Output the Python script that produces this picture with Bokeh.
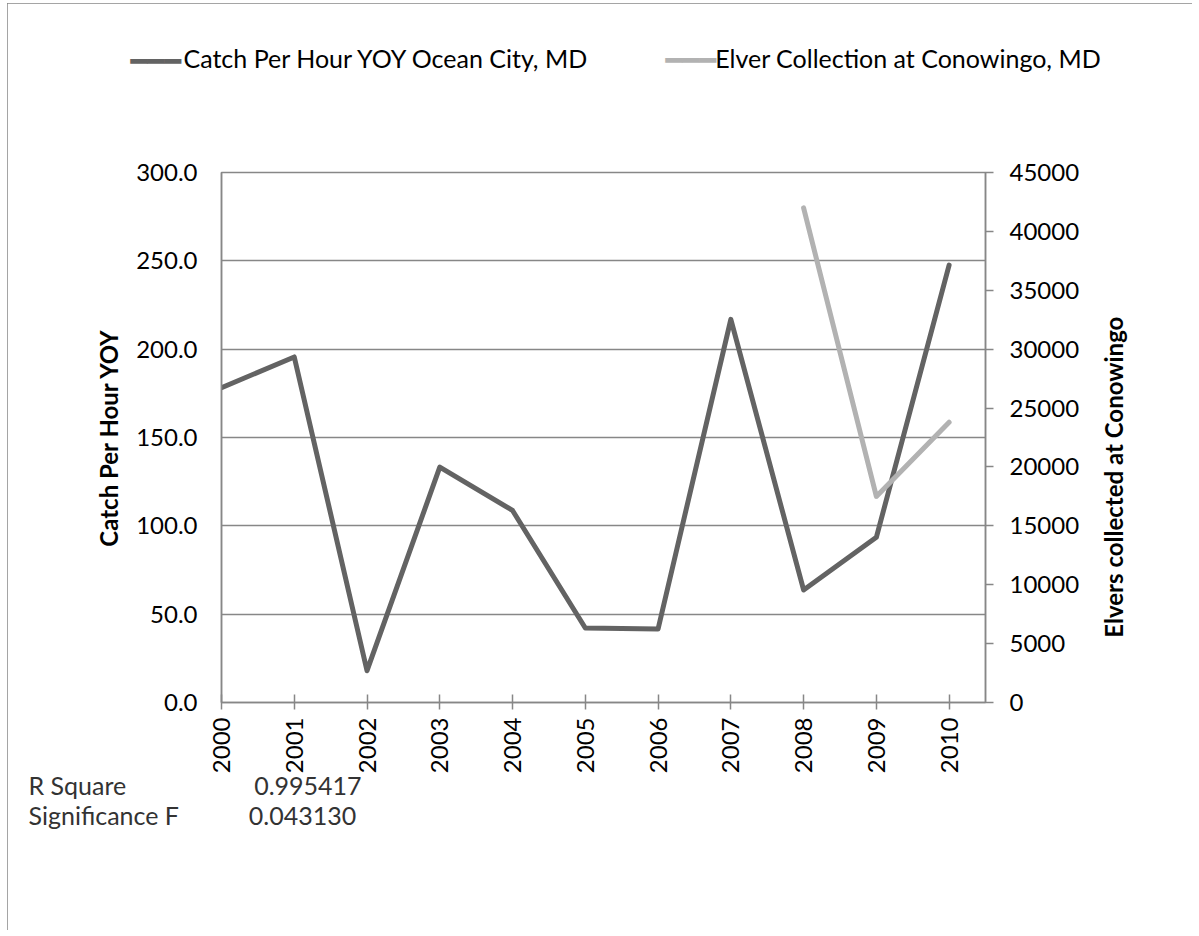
import math
from bokeh.plotting import figure
from bokeh.models import (Range1d, LinearAxis, SingleIntervalTicker, FixedTicker,
                          NumeralTickFormatter, Title)
from bokeh.embed import file_html
from bokeh.resources import INLINE

# ---- data ----
years = [2000, 2001, 2002, 2003, 2004, 2005, 2006, 2007, 2008, 2009, 2010]
catch_per_hour = [178.2, 195.6, 18.0, 133.2, 108.7, 42.2, 41.6, 216.9, 63.7, 93.5, 247.6]
elver_years = [2008, 2009, 2010]
elver_counts = [42000, 17500, 23800]
series_names = ["Catch Per Hour YOY Ocean City, MD", "Elver Collection at Conowingo, MD"]
left_title = "Catch Per Hour YOY"
right_title = "Elvers collected at Conowingo"
right_title_start = 5500   # where the right-hand title begins, in elver units
stats_names = ["R Square", "Significance F"]
stats_values = ["0.995417", "0.043130"]

FONT = "Lato"
DARK = "#636363"
LIGHT = "#b2b2b2"
AXIS = "#878787"
NB = "\u00a0"
SWATCH = "\u2501" * 3
TICK_FS = "24px"

W, H = 1185, 927
p = figure(width=W, height=H, output_backend="svg", toolbar_location=None,
           title_location=None,
           x_range=Range1d(2000, 2010.5), y_range=Range1d(0, 300),
           min_border_left=214, min_border_right=207, min_border_top=169,
           min_border_bottom=228)
p.outline_line_color = AXIS
p.outline_line_width = 1.5
p.background_fill_color = "white"
p.border_fill_color = "white"
p.styles = {"margin-left": "7px", "margin-top": "3px",
            "outline": "2px solid #878787", "outline-offset": "-2px"}

p.extra_y_ranges = {"elver": Range1d(0, 45000)}

r1 = p.line(years, catch_per_hour, line_color=DARK, line_width=5,
            line_join="round", line_cap="round")
r2 = p.line(elver_years, elver_counts, y_range_name="elver", line_color=LIGHT,
            line_width=5, line_join="round", line_cap="round")

# x axis
xa = p.xaxis[0]
xa.ticker = FixedTicker(ticks=years)
xa.major_label_orientation = math.pi / 2
xa.major_tick_in = 8
xa.major_tick_out = 7
xa.minor_tick_in = 0
xa.minor_tick_out = 0
xa.axis_line_color = AXIS
xa.axis_line_width = 1.5
xa.major_tick_line_color = AXIS
xa.major_tick_line_width = 1.5
xa.major_label_standoff = 8
xa.major_label_text_font = FONT
xa.major_label_text_font_size = TICK_FS
xa.major_label_text_color = "black"

# left axis
ya = p.yaxis[0]
ya.ticker = SingleIntervalTicker(interval=50)
ya.formatter = NumeralTickFormatter(format="0.0")
ya.major_tick_in = 0
ya.major_tick_out = 0
ya.minor_tick_in = 0
ya.minor_tick_out = 0
ya.axis_line_color = AXIS
ya.axis_line_width = 1.5
ya.major_label_standoff = 24
ya.major_label_text_font = FONT
ya.major_label_text_font_size = TICK_FS
ya.major_label_text_color = "black"
ya.axis_label = left_title
ya.axis_label_text_font = FONT
ya.axis_label_text_font_style = "bold"
ya.axis_label_text_font_size = "24px"
ya.axis_label_text_color = "black"
ya.axis_label_standoff = 10

# right axis (values)
ra = LinearAxis(y_range_name="elver", ticker=SingleIntervalTicker(interval=5000))
ra.major_tick_in = 0
ra.major_tick_out = 8
ra.minor_tick_in = 0
ra.minor_tick_out = 0
ra.axis_line_color = AXIS
ra.axis_line_width = 1.5
ra.major_tick_line_color = AXIS
ra.major_tick_line_width = 1.5
ra.major_label_standoff = 16
ra.major_label_text_font = FONT
ra.major_label_text_font_size = TICK_FS
ra.major_label_text_color = "black"
p.add_layout(ra, "right")

# right axis title (reads bottom-to-top, starting low like the reference)
rt = LinearAxis(y_range_name="elver", ticker=FixedTicker(ticks=[right_title_start]),
                major_label_overrides={right_title_start: right_title})
rt.axis_line_color = None
rt.major_tick_line_color = None
rt.minor_tick_line_color = None
rt.major_tick_in = 0
rt.major_tick_out = 0
rt.minor_tick_in = 0
rt.minor_tick_out = 0
rt.major_label_orientation = math.pi / 2
rt.major_label_standoff = 31
rt.major_label_text_font = FONT
rt.major_label_text_font_style = "bold"
rt.major_label_text_font_size = "24px"
rt.major_label_text_color = "black"
p.add_layout(rt, "right")

# grid
p.xgrid.grid_line_color = None
p.ygrid.ticker = SingleIntervalTicker(interval=50)
p.ygrid.grid_line_color = AXIS
p.ygrid.grid_line_width = 1.5

# legend row above the plot area: an invisible spacer, then swatches and labels
p.add_layout(Title(text=NB, align="left", vertical_align="top", offset=0,
                   standoff=77.5, text_font=FONT, text_font_size="25px",
                   text_color="white"), "above")
p.add_layout(Title(text=SWATCH, align="left", vertical_align="top", offset=-91,
                   standoff=-34, text_font="DejaVu Sans", text_font_size="28px",
                   text_font_style="normal", text_color=DARK), "above")
p.add_layout(Title(text=SWATCH, align="left", vertical_align="top", offset=444,
                   standoff=-34, text_font="DejaVu Sans", text_font_size="28px",
                   text_font_style="normal", text_color=LIGHT), "above")
legend_text = series_names[0] + NB * 20 + series_names[1]
p.add_layout(Title(text=legend_text, align="left", vertical_align="top", offset=-38,
                   standoff=-29, text_font=FONT, text_font_size="25px",
                   text_font_style="normal", text_color="black"), "above")

# statistics text below the chart
line1 = stats_names[0] + NB * 20 + stats_values[0]
line2 = stats_names[1] + NB * 11 + stats_values[1]
for txt, so in [(line1, -17), (line2, 13)]:
    p.add_layout(Title(text=txt, align="left", offset=-193, standoff=so,
                       text_font=FONT, text_font_size="25px",
                       text_font_style="normal", text_color="#333333"), "below")

open("out.html", "w").write(file_html(p, INLINE))
